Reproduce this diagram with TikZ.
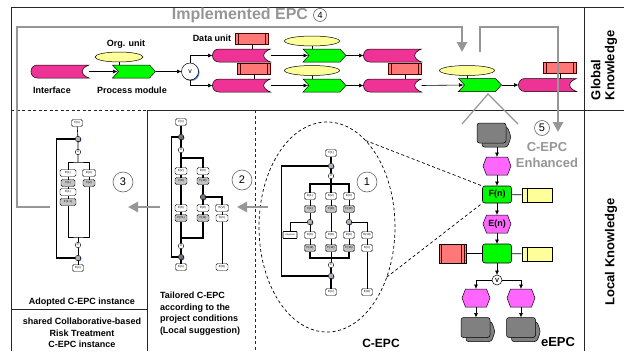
\documentclass[tikz,border=0pt]{standalone}
\usepackage{fontspec}
\setmainfont{Liberation Sans}
\usetikzlibrary{arrows.meta,shapes.geometric,shadows}
\definecolor{pinkc}{RGB}{238,50,150}
\definecolor{greenc}{RGB}{0,250,0}
\definecolor{yellowc}{RGB}{255,255,153}
\definecolor{redc}{RGB}{255,120,120}
\definecolor{magc}{RGB}{255,102,255}
\definecolor{grayl}{RGB}{150,150,150}
\definecolor{docg}{RGB}{128,128,128}
\definecolor{fgray}{RGB}{195,195,195}
\definecolor{shadowb}{RGB}{40,90,220}

\tikzset{
  every node/.style={inner sep=0pt, outer sep=0pt},
  gl/.style={draw=grayl, line width=2.6pt},
  gar/.style={gl, -{Triangle[length=10pt,width=10pt]}},
  sar/.style={draw=black, line width=0.6pt, -{Latex[length=4.5pt,width=4pt]}},
  cl/.style={draw=black, line width=0.6pt},
  frm/.style={draw=black!85, line width=0.8pt},
  dsh/.style={dash pattern=on 3pt off 2.5pt},
  lab/.style={font=\bfseries\fontsize{9}{10.5}\selectfont},
  tb/.style={draw=black, line width=0.45pt, rounded corners=1.5pt, fill=white, minimum height=7pt, font=\fontsize{3}{3.5}\selectfont},
  tf/.style={tb, fill=fgray},
  cg/.style={circle, minimum size=5.5pt, draw=black, line width=0.4pt, fill=gray!60, drop shadow={shadow xshift=0.7pt, shadow yshift=-0.7pt, fill=shadowb, opacity=0.9}},
  cdk/.style={cg, fill=black!55},
  cv/.style={circle, minimum size=5.5pt, draw=black, line width=0.4pt, fill=white, font=\fontsize{3.5}{3.5}\selectfont},
  thinl/.style={draw=black, line width=0.6pt},
  thickl/.style={draw=black, line width=1.1pt},
  num/.style={circle, draw=black!60, line width=0.6pt, minimum size=20pt, font=\fontsize{11}{11}\selectfont},
  fnode/.style={draw=black, line width=0.6pt, fill=greenc, rounded corners=2.5pt, minimum width=29pt, minimum height=17pt, font=\bfseries\fontsize{9}{9}\selectfont},
}

\newcommand{\Ifc}[3]{%
  \begin{scope}[shift={(#2,#3)}]
    \filldraw[fill=pinkc, draw=black, line width=0.5pt] (-22.5,-6.5) -- (29,-6.5) .. controls (20,-3) and (20,3) .. (29,6.5) -- (-22.5,6.5) .. controls (-31.2,6.5) and (-31.2,-6.5) .. (-22.5,-6.5) -- cycle;
  \end{scope}
  \node[minimum width=58pt, minimum height=13pt] (#1) at (#2,#3) {};}
\newcommand{\Proc}[3]{%
  \begin{scope}[shift={(#2,#3)}]
    \filldraw[fill=greenc, draw=black, line width=0.5pt] (-21.5,-6.5) -- (15.5,-6.5) -- (21.5,0) -- (15.5,6.5) -- (-21.5,6.5) -- (-15.5,0) -- cycle;
  \end{scope}
  \node[minimum width=43pt, minimum height=13pt] (#1) at (#2,#3) {};}
\newcommand{\Dat}[3]{%
  \node[draw=black!70!red, line width=0.5pt, fill=redc, minimum width=33pt, minimum height=11pt] (#1) at (#2,#3) {};
  \draw[black!70!red, line width=0.5pt] ([xshift=3pt]#1.north west) -- ([xshift=3pt]#1.south west) ([xshift=-3pt]#1.north east) -- ([xshift=-3pt]#1.south east);}
\newcommand{\Org}[4]{%
  \node[ellipse, draw=black, line width=0.5pt, fill=yellowc, minimum width=#4pt, minimum height=10pt] (#1) at (#2,#3) {};}
\newcommand{\Hex}[4]{%
  \begin{scope}[shift={(#2,#3)}]
    \filldraw[fill=magc, draw=black, line width=0.5pt] (-14,0) -- (-10.5,-9) -- (10.5,-9) -- (14,0) -- (10.5,9) -- (-10.5,9) -- cycle;
  \end{scope}
  \node[minimum width=28pt, minimum height=18pt, font=\bfseries\fontsize{9}{9}\selectfont] (#1) at (#2,#3) {#4};}
\newcommand{\Yel}[3]{%
  \node[draw=black, line width=0.5pt, fill=yellowc, minimum width=30pt, minimum height=14pt] (#1) at (#2,#3) {};
  \draw[black, line width=0.5pt] ([xshift=5pt]#1.north west) -- ([xshift=5pt]#1.south west);}
\newcommand{\Redb}[3]{%
  \node[draw=black, line width=0.5pt, fill=redc, minimum width=27pt, minimum height=19pt] (#1) at (#2,#3) {};
  \draw[black!70!red, line width=0.5pt] ([xshift=-2pt]#1.north east) -- ([xshift=-2pt]#1.south east) ([xshift=-4.5pt]#1.north east) -- ([xshift=-4.5pt]#1.south east) ([xshift=2.5pt]#1.north west) -- ([xshift=2.5pt]#1.south west);}
\newcommand{\Doc}[3]{%
  \begin{scope}[shift={(#2,#3)}]
    \filldraw[fill=docg, draw=black, line width=0.5pt, rounded corners=2.5pt] (-9.5,-6) -- (16,-6) -- (19.5,4) -- (16,14) -- (-9.5,14) -- cycle;
    \filldraw[fill=docg, draw=black, line width=0.5pt, rounded corners=2.5pt] (-14.5,-10) rectangle (14.5,10);
  \end{scope}
  \node[minimum width=34pt, minimum height=24pt] (#1) at ({#2+2.5},{#3+2}) {};}

\begin{document}
\begin{tikzpicture}[x=1pt,y=-1pt]
\useasboundingbox (0,0) rectangle (624,351);
% frame
\draw[frm] (11,351) -- (11,7) -- (624,7);
\draw[frm] (584,7) -- (584,351);
\draw[frm] (147,110) -- (624,110);
\draw[frm, dsh] (11,110) -- (147,110);
\draw[frm] (147,110) -- (147,351);
\draw[frm, dsh] (255,110) -- (255,351);
\draw[frm] (11,309) -- (147,309);

% title
\node[font=\bfseries\fontsize{16}{16}\selectfont, text=grayl] (title) at (240,15) {Implemented EPC};
\node[num, minimum size=13pt, font=\fontsize{9}{9}\selectfont] (n4) at (320,15) {4};

% top EPC
\Ifc{ifc}{60}{71.5}
\Proc{proc1}{134}{71.5}
\Org{org1}{119}{57}{48}
\node[circle, draw=black, line width=0.5pt, fill=white, minimum size=17pt, font=\fontsize{7}{7}\selectfont, drop shadow={shadow xshift=1pt, shadow yshift=-1pt, fill=shadowb, opacity=0.8}] (xor1) at (190,71.5) {v};
\Ifc{pu}{241.5}{55.5}
\Ifc{pl}{241.5}{85.5}
\Dat{du1}{252}{38.5}
\Dat{du2}{254}{68.5}
\Proc{gu}{324.5}{55.5}
\Proc{gl}{324.5}{85.5}
\Org{ou1}{312}{41}{55}
\Org{ou2}{312}{70.5}{55}
\Ifc{pur}{392.5}{55.5}
\Ifc{plr}{392.5}{85.5}
\Dat{du3}{405}{68.5}
\Proc{gbig}{480}{85}
\Org{ou3}{467}{70.5}{55}
\Ifc{pfr}{547.5}{85}
\Dat{du4}{560}{68}

\node[lab] (lint) at (52,90) {Interface};
\node[lab] (lproc) at (132,90) {Process module};
\node[lab] (lorg) at (126,44) {Org. unit};
\node[lab] (ldat) at (212,38) {Data unit};

\draw[sar] (ifc.east) -- ([xshift=5pt]proc1.west);
\draw[sar] (proc1.east) -- (xor1.west);
\draw[sar] (xor1.north) |- (pu.west);
\draw[sar] (xor1.south) |- (pl.west);
\draw[sar] (pu.east) -- ([xshift=5pt]gu.west);
\draw[sar] (pl.east) -- ([xshift=5pt]gl.west);
\draw[sar] (gu.east) -- (pur.west);
\draw[sar] (gl.east) -- (plr.west);
\draw[sar] (plr.east) -- ([xshift=5pt]gbig.west);
\draw[sar] (gbig.east) -- (pfr.west);
\draw[cl] (org1.south) -- (org1.south |- proc1.north);
\draw[cl] (du1.south) -- (du1.south |- pu.north);
\draw[cl] (du2.south) -- (du2.south |- pl.north);
\draw[cl] (ou1.south) -- (ou1.south |- gu.north);
\draw[cl] (ou2.south) -- (ou2.south |- gl.north);
\draw[cl] (du3.south) -- (du3.south |- plr.north);
\draw[cl] (ou3.south) -- (ou3.south |- gbig.north);
\draw[cl] (du4.south) -- (du4.south |- pfr.north);

% triangle lines below gbig
\coordinate (apex) at (488,94);
\coordinate (trL) at (462,124);
\coordinate (trR) at (518,124);
\draw[grayl, line width=1.2pt] (trL) -- (apex) -- (trR);

% right labels
\node[rotate=90, anchor=west, align=left, font=\bfseries\fontsize{13}{14}\selectfont] (glob) at (604,100) {Global\\Knowledge};
\node[rotate=90, font=\bfseries\fontsize{13}{14}\selectfont] (loc) at (611,252) {Local Knowledge};

% ===== Adopted C-EPC =====
\node[tb, minimum width=11pt] (A0) at (77,123) {F(n)};
\node[cg] (Ac1) at (78,139) {};
\node[cv] (Av1) at (78,152) {v};
\coordinate (Ab1) at (78,162);
\node[tb, minimum width=16pt] (Ae1) at (68,173) {E(1)};
\node[tf, minimum width=14pt] (Af1) at (68,183) {F(1)};
\node[tb, minimum width=16pt] (Ae2) at (68,192) {E(1)};
\node[tf, minimum width=16pt] (Af2) at (68,202) {F(1.1)};
\node[tb, minimum width=13pt] (Ae3) at (89,173) {E(3)};
\node[tf, minimum width=12pt] (Af3) at (89,183) {F(2)};
\coordinate (Ab2) at (78,237);
\node[cv] (Av2) at (78,245) {v};
\node[cg] (Ac2) at (78,258) {};
\node[tb, minimum width=11pt] (Aen) at (78,268) {E(n)};
\draw[thinl] (A0) -- (Ac1) -- (Av1) -- (Ab1);
\draw[thinl] (Ae1.north) |- (Ab1) -| (Ae3.north);
\draw[thinl] (Ae1) -- (Af1) -- (Ae2) -- (Af2);
\draw[thinl] (Ae3) -- (Af3);
\draw[thinl] (Af2.south) |- (Ab2) -| (Af3.south);
\draw[thinl] (Ab2) -- (Av2) -- (Ac2) -- (Aen);
\draw[thickl] (Ac1.west) -- ++(-18.5,0) |- (Ac2.west);

% ===== Tailored C-EPC =====
\node[tb, minimum width=11pt] (T0) at (181,122) {F(n)};
\node[cdk] (Tc1) at (181,137) {};
\node[cv] (Tv1) at (181,150) {v};
\coordinate (Tb1) at (181,158);
\node[tb, minimum width=12pt] (Te2) at (181,171) {E(2)};
\node[tf, minimum width=12pt] (Tf8) at (181,181) {F(8)};
\node[tb, minimum width=12pt] (Te6) at (181,208) {E(6)};
\node[tf, minimum width=12pt] (Tfv) at (181,218) {F(V1)};
\node[tb, minimum width=12pt] (Te3) at (203,171) {E(3)};
\node[tf, minimum width=12pt] (Tf10) at (203,181) {F(10)};
\node[cdk] (Tx) at (203,197) {};
\node[tb, minimum width=12pt] (Te8) at (203,208) {E(8)};
\node[tf, minimum width=12pt] (Tf11) at (203,218) {F(11)};
\node[tb, minimum width=13pt] (Tev) at (222,208) {E(VI)};
\node[tb, minimum width=12pt] (Tfm) at (222,218) {F(m)};
\node[tb, minimum width=12pt] (Tem) at (222,267) {E(m)};
\coordinate (Tb2) at (181,238);
\node[cv] (Tv2) at (181,246) {v};
\node[cdk] (Tc2) at (181,257) {};
\node[tb, minimum width=11pt] (Ten) at (181,267) {E(n)};
\draw[thickl] (T0) -- (Tc1) -- (Tv1) -- (Te2);
\draw[thickl] (Tb1) -| (Te3.north);
\draw[thickl] (Te2) -- (Tf8) -- (Te6) -- (Tfv) -- (Tv2);
\draw[thickl] (Te3) -- (Tf10) -- (Tx) -- (Te8) -- (Tf11);
\draw[thickl] (Tx) -| (Tev.north);
\draw[thinl] (Tev) -- (Tfm) -- (Tem);
\draw[thickl] (Tf11.south) |- (Tb2);
\draw[thickl] (Tv2) -- (Tc2) -- (Ten);
\draw[thickl] (Tc1.west) -- ++(-6.5,0) |- (Tc2.west);

% ===== C-EPC =====
\node[ellipse, draw=black, dsh, line width=0.7pt, minimum width=136pt, minimum height=210pt] (cepc) at (327,227) {};
\node[tb, minimum width=11pt] (C0) at (331,153) {F(1)};
\node[cg] (Cc1) at (331,166) {};
\node[cv] (Cv1) at (331,176) {v};
\coordinate (Cb1) at (331,184);
\node[tb, minimum width=11pt] (Ce1) at (310,196) {E(1)};
\node[tb, minimum width=11pt] (Ce2) at (331,196) {E(2)};
\node[tb, minimum width=11pt] (Ce3) at (349,196) {E(3)};
\node[tf, minimum width=11pt] (Cf1) at (310,209) {F(1)};
\node[tf, minimum width=11pt] (Cf2) at (331,209) {F(8)};
\node[tf, minimum width=11pt] (Cf3) at (349,209) {F(10)};
\node[cg] (Cx1) at (310,222) {};
\node[cg] (Cx2) at (349,222) {};
\node[tb, minimum width=14pt, line width=0.8pt, rounded corners=0.6pt, font=\fontsize{2.2}{2.5}\selectfont] (Cobj) at (290,235) {Objective};
\node[tb, minimum width=11pt] (Ce4) at (310,235) {E(6)};
\node[tf, minimum width=11pt] (Cf4) at (310,248) {F(11)};
\node[tb, minimum width=11pt] (Ce5) at (331,235) {E(8)};
\node[tf, minimum width=11pt] (Cf5) at (331,248) {F(12)};
\node[tb, minimum width=11pt] (Ce6) at (349,235) {E(9)};
\node[tf, minimum width=11pt] (Cf6) at (349,248) {F(13)};
\node[tb, minimum width=11pt] (Ce7) at (367,235) {E(10)};
\node[tb, minimum width=11pt] (Cf7) at (367,248) {F(m)};
\node[tb, minimum width=11pt] (Ce8) at (367,292) {E(m)};
\coordinate (Cb2) at (331,258);
\node[cv] (Cv2) at (331,265) {v};
\node[cg] (Cc2) at (331,276) {};
\node[tb, minimum width=11pt] (Ce9) at (331,292) {E(n)};
\draw[thickl] (C0) -- (Cc1) -- (Cv1) -- (Ce2);
\draw[thickl] (Ce1.north) |- (Cb1) -| (Ce3.north);
\draw[thinl] (Ce1) -- (Cf1) -- (Cx1) -- (Ce4) -- (Cf4);
\draw[thinl] (Cx1) -| (Cobj.north);
\draw[thinl] (Ce2) -- (Cf2) -- (Ce5) -- (Cf5) -- (Cv2);
\draw[thinl] (Ce3) -- (Cf3) -- (Cx2) -- (Ce6) -- (Cf6);
\draw[thinl] (Cx2) -| (Ce7.north);
\draw[thinl] (Ce7) -- (Cf7) -- (Ce8);
\draw[thickl] (Cf4.south) |- (Cb2) -| (Cf6.south);
\draw[thickl] (Cv2) -- (Cc2) -- (Ce9);
\draw[thickl] (Cc1.west) -- ++(-46.5,0) |- (Cc2.west);

% ===== eEPC =====
\Doc{d1}{491.5}{133}
\Hex{h1}{497}{166}{}
\node[fnode] (fn) at (497,194.5) {F(n)};
\Yel{y1}{537}{195}
\Hex{en}{497}{224}{E(n)}
\node[fnode, minimum height=19pt] (f2) at (497,253.5) {};
\Redb{r1}{452.5}{253.5}
\Yel{y2}{537}{254}
\node[circle, draw=black, line width=0.5pt, fill=white, minimum size=10pt, font=\bfseries\fontsize{6}{6}\selectfont] (x2) at (497,280) {V};
\Hex{h3}{476}{298}{}
\Hex{h4}{521}{298}{}
\Doc{d3}{475.5}{327.5}
\Doc{d4}{521}{327.5}
\draw[sar] (d1.south -| h1.north) -- (h1.north);
\draw[sar] (h1) -- (fn);
\draw[cl] (fn) -- (y1);
\draw[sar] (fn) -- (en);
\draw[sar] (en) -- (f2);
\draw[cl] (r1) -- (f2);
\draw[cl] (f2) -- (y2);
\draw[sar] (f2) -- (x2);
\draw[sar] (x2.west) -| (h3.north);
\draw[sar] (x2.east) -| (h4.north);
\draw[sar] (h3.south) -- (h3.south |- d3.north);
\draw[sar] (h4.south) -- (h4.south |- d4.north);
\draw[black, dsh, line width=0.7pt] (cepc.66) -- (fn.north west);
\draw[black, dsh, line width=0.7pt] (cepc.-40) -- (fn.south west);

% ===== gray process arrows =====
\coordinate (a3) at (50,207);
\coordinate (tip4) at (462,52);
\coordinate (s5) at (480,52);
\coordinate (k5) at (558,27);
\coordinate (tip5) at (558,132);
\coordinate (s3) at (160,207);
\coordinate (e3) at (128,207);
\coordinate (s2) at (268,207);
\coordinate (e2) at (237,207);
\draw[gar] (a3) -| (17,27) -| (tip4);
\draw[gar] (s5) |- (k5) -- (tip5);
\draw[gar] (s3) -- (e3);
\draw[gar] (s2) -- (e2);

\node[num] (n1) at (367,182) {1};
\node[num] (n2) at (242,180) {2};
\node[num] (n3) at (123,182) {3};
\node[num, minimum size=15pt] (n5) at (542,128) {5};

% texts
\node[font=\bfseries\fontsize{13}{15.5}\selectfont, text=grayl, align=center] (enh) at (547,155) {C-EPC\\Enhanced};
\node[font=\bfseries\fontsize{13}{14}\selectfont] (eepc) at (558,342) {eEPC};
\node[font=\bfseries\fontsize{12}{12}\selectfont] (cepcl) at (381,343) {C-EPC};
\node[lab] (adl) at (82,302) {Adopted C-EPC instance};
\node[align=center, font=\bfseries\fontsize{9}{11.5}\selectfont] (shl) at (82,333) {shared Collaborative-based\\Risk Treatment\\C-EPC instance};
\node[align=left, anchor=north west, font=\bfseries\fontsize{9}{11.7}\selectfont] (tail) at (160,292) {Tailored C-EPC\\according to the\\project conditions\\(Local suggestion)};
\end{tikzpicture}
\end{document}
